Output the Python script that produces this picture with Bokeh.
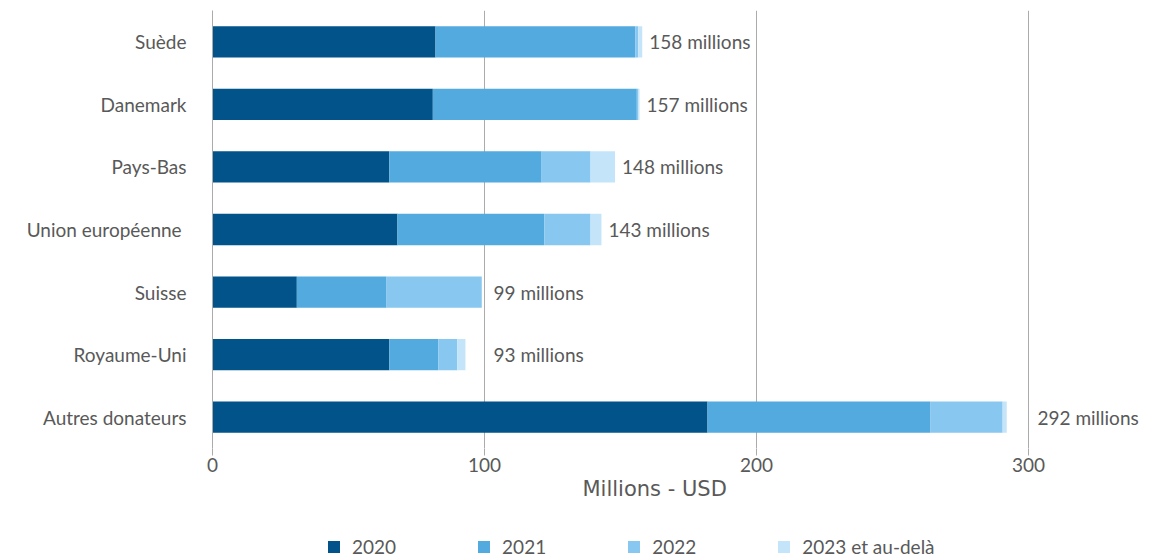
import math
from bokeh.plotting import figure
from bokeh.layouts import column
from bokeh.core.properties import value
from bokeh.models import (ColumnDataSource, FactorRange, Range1d, Legend, LegendItem, FixedTicker,
                          LabelSet, Title)
from bokeh.embed import file_html
from bokeh.resources import INLINE

donors = ["Suède", "Danemark", "Pays-Bas", "Union européenne ", "Suisse", "Royaume-Uni", "Autres donateurs"]
y2020 = [82, 81, 65, 68, 31, 65, 182]
y2021 = [73.5, 75, 56, 54, 33, 18, 82]
y2022 = [1, 0.6, 18, 17, 35, 7, 26.5]
y2023 = [1.5, 0.4, 9, 4, 0, 3, 1.5]
totals = [158, 157, 148, 143, 99, 93, 292]
series = ["2020", "2021", "2022", "2023 et au-delà"]
x_ticks = [0, 100, 200, 300]

colors = ["#01538A", "#52AADF", "#88C7F0", "#C4E5F9"]
FONT = "Lato"
TXT = "#595959"
GRID = "#ABABAB"
FS = "19px"
cols = ["y2020", "y2021", "y2022", "y2023"]

src = ColumnDataSource(dict(donor=donors, y2020=y2020, y2021=y2021, y2022=y2022, y2023=y2023))

p = figure(width=1161, height=520, y_range=FactorRange(factors=donors[::-1]),
           x_range=Range1d(0, 346.7), output_backend="svg", toolbar_location=None,
           min_border_left=212, min_border_right=6, min_border_top=10, min_border_bottom=72)
p.outline_line_color = None
p.background_fill_color = "white"

p.hbar_stack(cols, y="donor", height=0.5, color=colors, line_color=None, source=src)

# value labels
lab_x, lab_off = [], []
for t in totals:
    nxt = math.ceil(t / 100) * 100
    if nxt - t < 10:
        lab_x.append(nxt); lab_off.append(9)
    else:
        lab_x.append(t); lab_off.append(7)
lsrc = ColumnDataSource(dict(x=lab_x, y=donors, off=lab_off, text=[f"{t} millions" for t in totals]))
labels = LabelSet(x="x", y="y", text="text", x_offset="off", source=lsrc, text_baseline="middle",
                  text_align="left", text_font_size=FS, text_color=TXT, text_font=value(FONT))
p.add_layout(labels)

# axes
p.xaxis.ticker = FixedTicker(ticks=x_ticks)
p.xaxis.axis_line_color = None
p.xaxis.major_tick_line_color = GRID
p.xaxis.major_tick_out = 7
p.xaxis.major_tick_in = 0
p.xaxis.minor_tick_line_color = None
p.xaxis.major_label_text_font_size = FS
p.xaxis.major_label_text_color = TXT
p.xaxis.major_label_text_font = FONT
p.xaxis.major_label_standoff = 2

p.add_layout(Title(text="Millions - USD", align="left", offset=370, standoff=0,
                   text_font="DejaVu Sans", text_font_size="21px", text_font_style="normal",
                   text_color=TXT), "below")

p.yaxis.axis_line_color = GRID
p.yaxis.major_tick_line_color = None
p.yaxis.minor_tick_line_color = None
p.yaxis.major_label_text_font_size = FS
p.yaxis.major_label_text_color = TXT
p.yaxis.major_label_text_font = FONT
p.yaxis.major_label_standoff = 20

p.ygrid.grid_line_color = None
p.xgrid.grid_line_color = GRID
p.xgrid.grid_line_width = 1

# legend strip (zero-height bars, only used for legend swatches)
lg = figure(width=1161, height=40, x_range=Range1d(-2, -1), y_range=FactorRange(factors=donors),
            output_backend="svg", toolbar_location=None,
            min_border_left=212, min_border_right=6, min_border_top=0, min_border_bottom=0)
lg.axis.visible = False
lg.grid.visible = False
lg.outline_line_color = None
lrend = lg.hbar_stack(cols, y="donor", height=0, color=colors, line_color=None, source=src)
legend = Legend(items=[LegendItem(label=s, renderers=[r]) for s, r in zip(series, lrend)],
                orientation="horizontal", location=(114, 2), border_line_color=None,
                background_fill_alpha=0,
                label_text_font=FONT, label_text_font_size=FS, label_text_color=TXT,
                glyph_width=15, glyph_height=15, spacing=80, label_standoff=11, padding=0, margin=0)
lg.add_layout(legend, "center")

open("out.html", "w").write(file_html(column(p, lg, spacing=0), INLINE))
